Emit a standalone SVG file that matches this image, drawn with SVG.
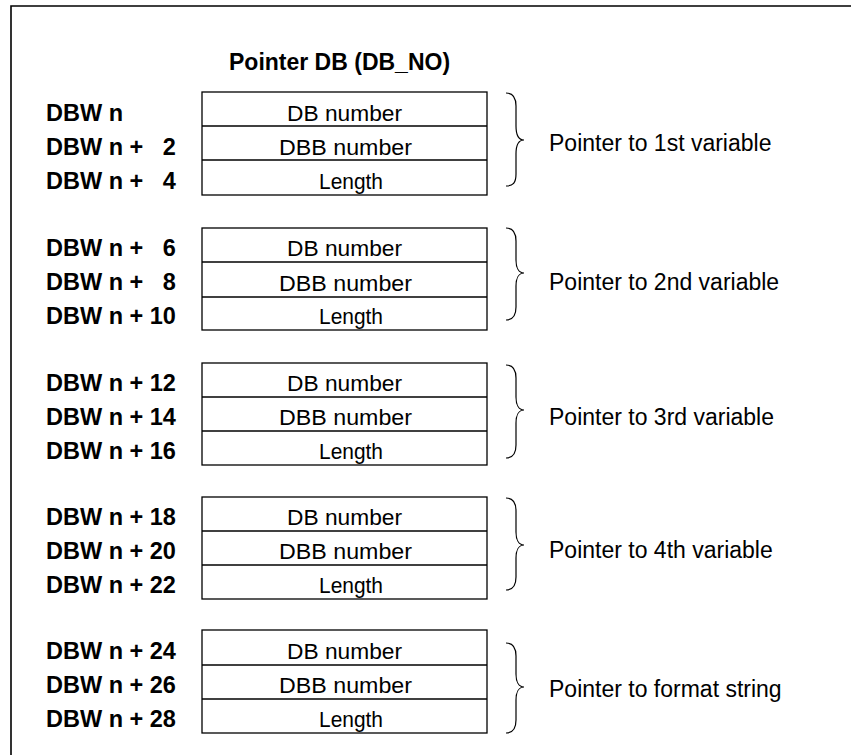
<svg xmlns="http://www.w3.org/2000/svg" width="851" height="755" viewBox="0 0 851 755">
<style>
.frame{fill:none;stroke:#000;stroke-width:1.6}
.cell{fill:#fff;stroke:#000;stroke-width:1.3}
.div{stroke:#000;stroke-width:1.5}
.brace{fill:none;stroke:#000;stroke-width:1.2}
.lbl{font-family:"Liberation Sans",Arial,sans-serif;font-weight:bold;font-size:23.5px;fill:#000}
.title{font-family:"Liberation Sans",Arial,sans-serif;font-weight:bold;font-size:23px;fill:#000}
.txt{font-family:"Liberation Sans",Arial,sans-serif;font-size:22px;fill:#000;text-anchor:middle}
.ptr{font-family:"Liberation Sans",Arial,sans-serif;font-size:23px;fill:#000}
</style>
<rect x="0" y="0" width="851" height="755" fill="#fff"/>
<path class="frame" d="M11,760 L11,6 L860,6"/>
<text class="title" x="229" y="70">Pointer DB (DB_NO)</text>

<g id="group1">
<text class="lbl" x="46" y="121">DBW n</text>
<text class="lbl" x="46" y="155" xml:space="preserve">DBW n +   2</text>
<text class="lbl" x="46" y="189" xml:space="preserve">DBW n +   4</text>
<rect class="cell" x="202" y="92" width="285" height="103"/>
<line class="div" x1="202" y1="126" x2="487" y2="126"/>
<line class="div" x1="202" y1="160" x2="487" y2="160"/>
<text class="txt" x="344.5" y="120.5" textLength="115" lengthAdjust="spacingAndGlyphs">DB number</text>
<text class="txt" x="345.5" y="154.5" textLength="133" lengthAdjust="spacingAndGlyphs">DBB number</text>
<text class="txt" x="351" y="188.5" textLength="64" lengthAdjust="spacingAndGlyphs">Length</text>
<path class="brace" d="M506,93 C513,93 516,97 516,106 L516,126 C516,135 519,140 524,140 C519,140 516,145 516,154 L516,174 C516,183 513,186 506,186"/>
<text class="ptr" x="549" y="151">Pointer to 1st variable</text>
</g>

<g id="group2">
<text class="lbl" x="46" y="256" xml:space="preserve">DBW n +   6</text>
<text class="lbl" x="46" y="290" xml:space="preserve">DBW n +   8</text>
<text class="lbl" x="46" y="324">DBW n + 10</text>
<rect class="cell" x="202" y="228" width="285" height="102"/>
<line class="div" x1="202" y1="262" x2="487" y2="262"/>
<line class="div" x1="202" y1="297" x2="487" y2="297"/>
<text class="txt" x="344.5" y="256" textLength="115" lengthAdjust="spacingAndGlyphs">DB number</text>
<text class="txt" x="345.5" y="290.5" textLength="133" lengthAdjust="spacingAndGlyphs">DBB number</text>
<text class="txt" x="351" y="324" textLength="64" lengthAdjust="spacingAndGlyphs">Length</text>
<path class="brace" d="M506,228 C513,228 516,232 516,241 L516,260 C516,268 519,273 524,273 C519,273 516,278 516,286 L516,307 C516,316 513,320 506,320"/>
<text class="ptr" x="549" y="290">Pointer to 2nd variable</text>
</g>

<g id="group3">
<text class="lbl" x="46" y="391">DBW n + 12</text>
<text class="lbl" x="46" y="425">DBW n + 14</text>
<text class="lbl" x="46" y="459">DBW n + 16</text>
<rect class="cell" x="202" y="363" width="285" height="102"/>
<line class="div" x1="202" y1="397" x2="487" y2="397"/>
<line class="div" x1="202" y1="431" x2="487" y2="431"/>
<text class="txt" x="344.5" y="391" textLength="115" lengthAdjust="spacingAndGlyphs">DB number</text>
<text class="txt" x="345.5" y="425" textLength="133" lengthAdjust="spacingAndGlyphs">DBB number</text>
<text class="txt" x="351" y="459" textLength="64" lengthAdjust="spacingAndGlyphs">Length</text>
<path class="brace" d="M506,365 C513,365 516,369 516,378 L516,397 C516,405 519,410 524,410 C519,410 516,415 516,423 L516,445 C516,454 513,458 506,458"/>
<text class="ptr" x="549" y="425">Pointer to 3rd variable</text>
</g>

<g id="group4">
<text class="lbl" x="46" y="525">DBW n + 18</text>
<text class="lbl" x="46" y="559">DBW n + 20</text>
<text class="lbl" x="46" y="593">DBW n + 22</text>
<rect class="cell" x="202" y="497" width="285" height="102"/>
<line class="div" x1="202" y1="531" x2="487" y2="531"/>
<line class="div" x1="202" y1="565" x2="487" y2="565"/>
<text class="txt" x="344.5" y="525" textLength="115" lengthAdjust="spacingAndGlyphs">DB number</text>
<text class="txt" x="345.5" y="559" textLength="133" lengthAdjust="spacingAndGlyphs">DBB number</text>
<text class="txt" x="351" y="593" textLength="64" lengthAdjust="spacingAndGlyphs">Length</text>
<path class="brace" d="M506,498 C513,498 516,502 516,511 L516,532 C516,540 519,545 524,545 C519,545 516,550 516,558 L516,577 C516,586 513,590 506,590"/>
<text class="ptr" x="549" y="558">Pointer to 4th variable</text>
</g>

<g id="group5">
<text class="lbl" x="46" y="659">DBW n + 24</text>
<text class="lbl" x="46" y="693">DBW n + 26</text>
<text class="lbl" x="46" y="727">DBW n + 28</text>
<rect class="cell" x="202" y="630" width="285" height="103"/>
<line class="div" x1="202" y1="665" x2="487" y2="665"/>
<line class="div" x1="202" y1="699" x2="487" y2="699"/>
<text class="txt" x="344.5" y="659" textLength="115" lengthAdjust="spacingAndGlyphs">DB number</text>
<text class="txt" x="345.5" y="693" textLength="133" lengthAdjust="spacingAndGlyphs">DBB number</text>
<text class="txt" x="351" y="727" textLength="64" lengthAdjust="spacingAndGlyphs">Length</text>
<path class="brace" d="M506,643 C513,643 516,647 516,656 L516,674 C516,682 519,687 524,687 C519,687 516,692 516,700 L516,720 C516,729 513,733 506,733"/>
<text class="ptr" x="549" y="697">Pointer to format string</text>
</g>
</svg>
